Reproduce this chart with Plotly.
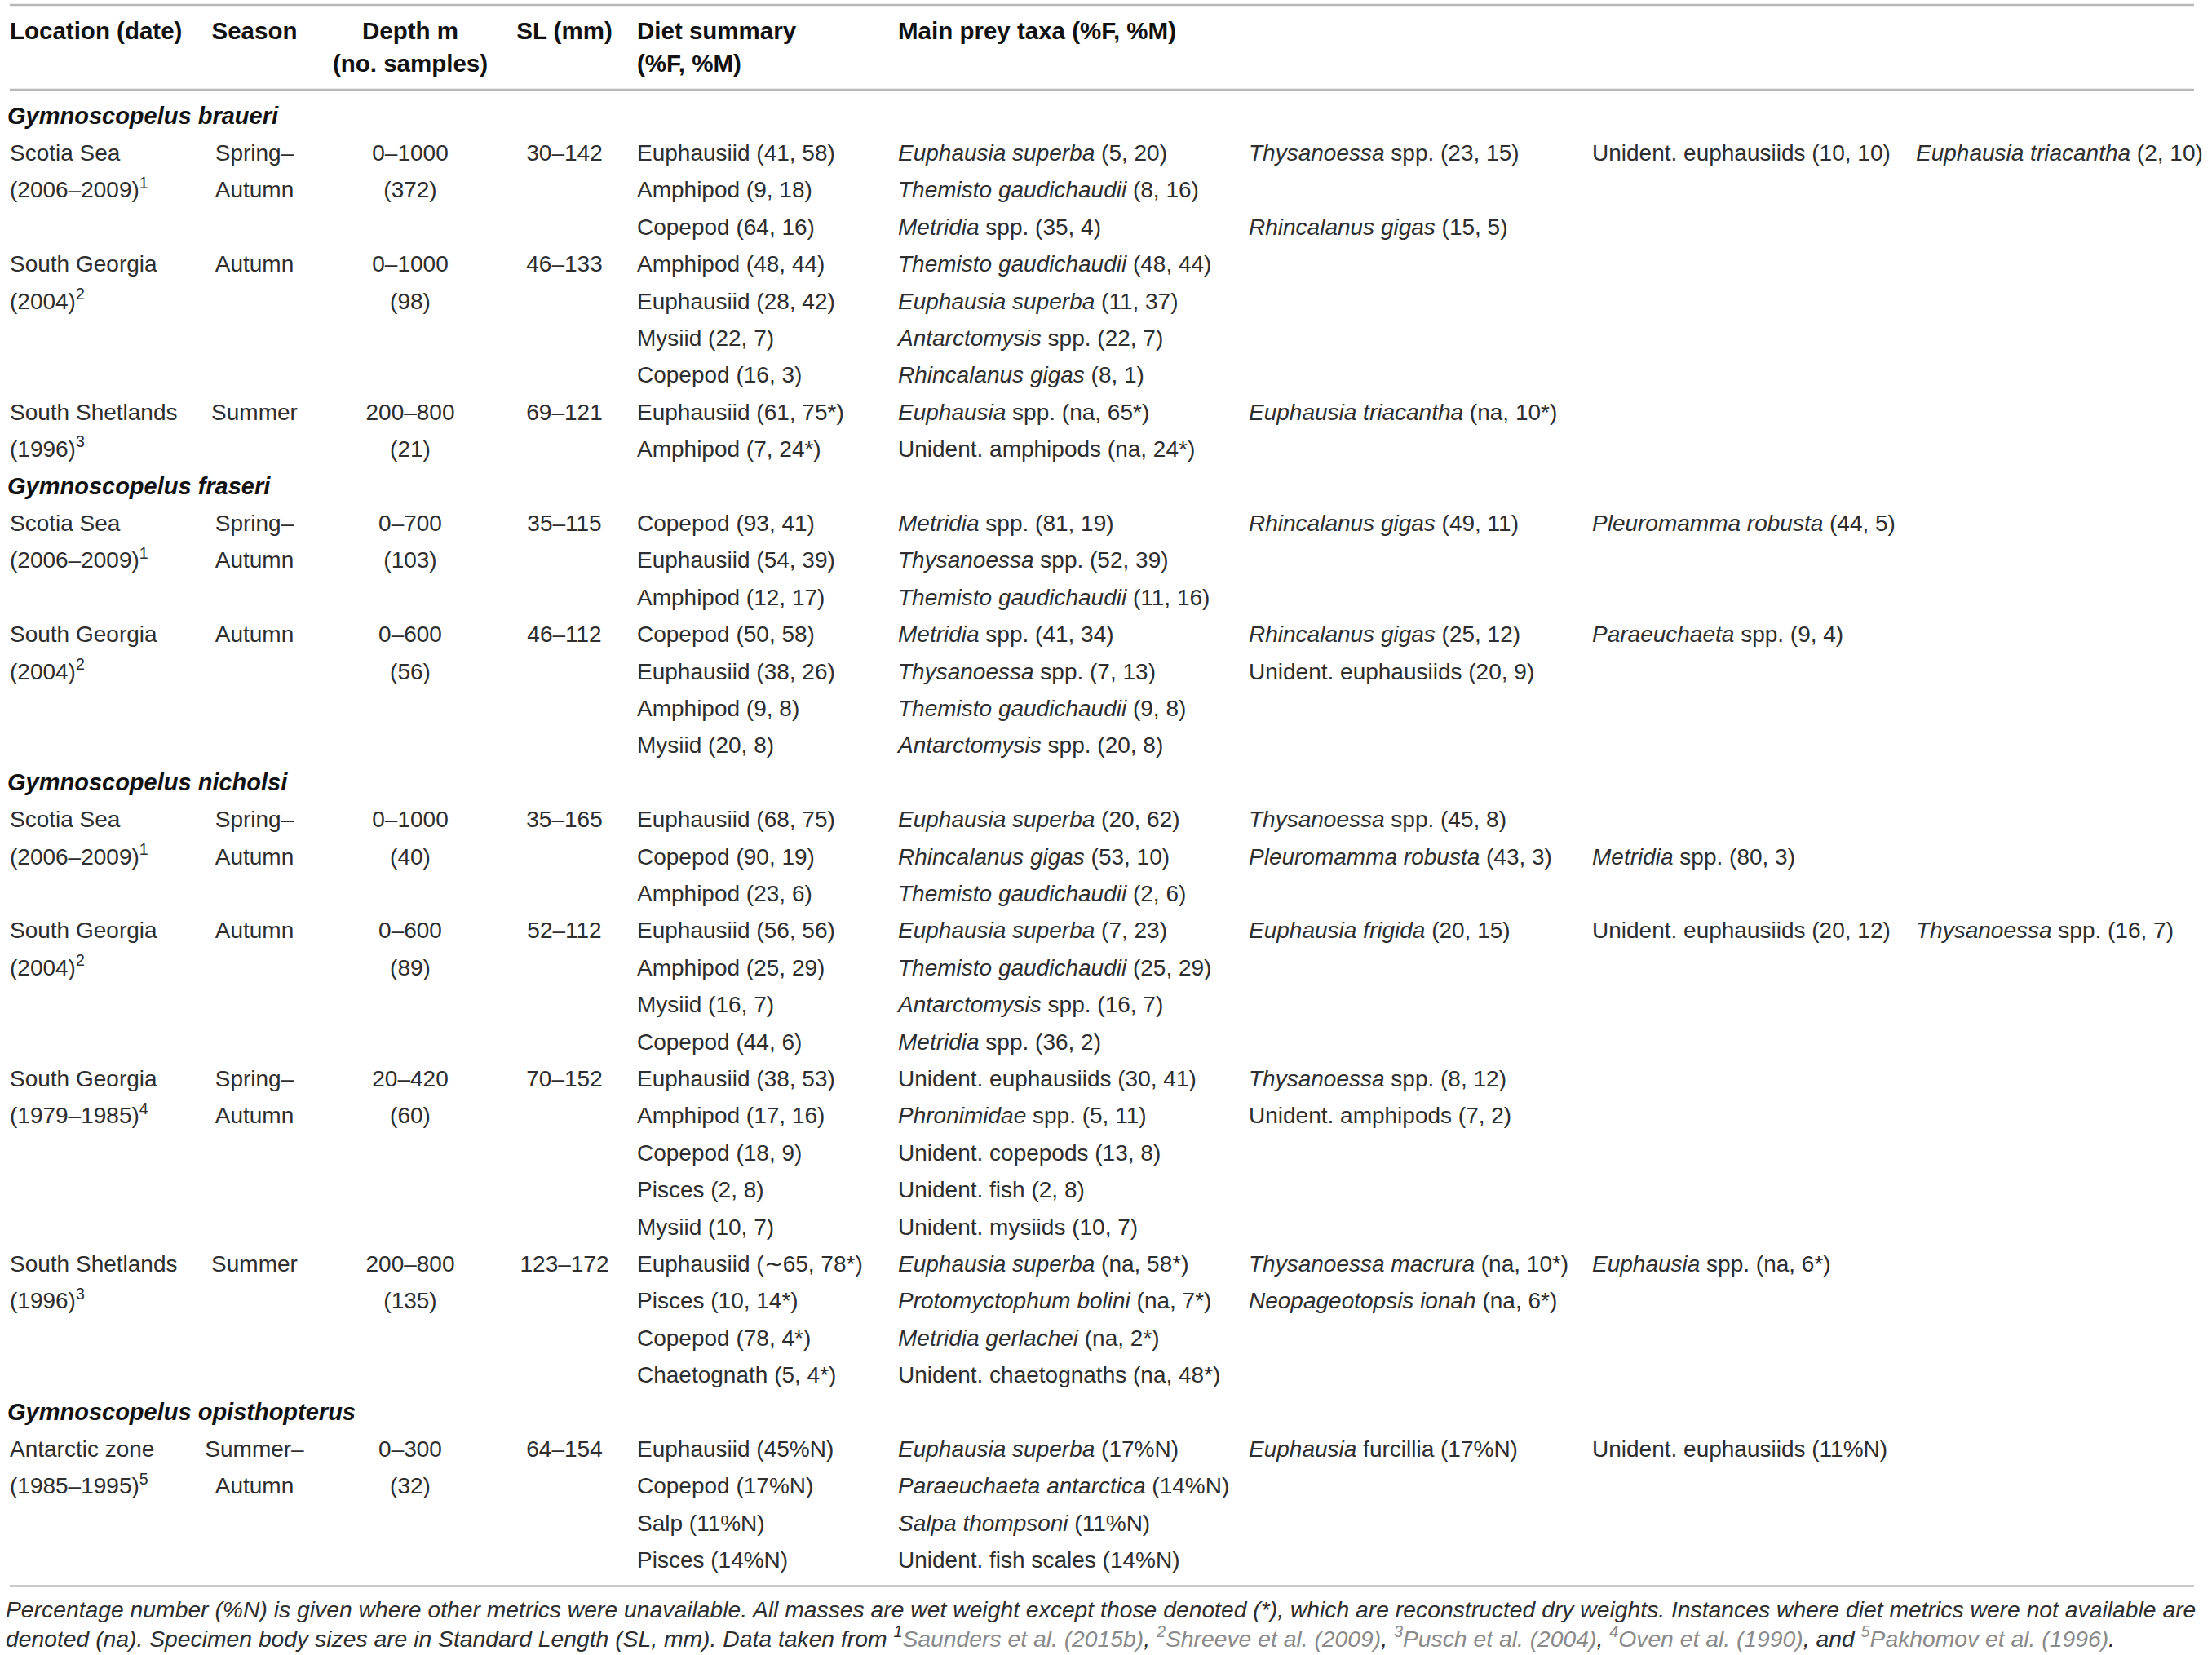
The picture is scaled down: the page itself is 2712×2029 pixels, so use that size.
import plotly.graph_objects as go

#-------------------------------------------------------------------------------
#    Table content, one entry per printed line of the body
#-------------------------------------------------------------------------------
species = [
    'Gymnoscopelus braueri', '', '', '', '', '', '', '', '', '',
    'Gymnoscopelus fraseri', '', '', '', '', '', '', '',
    'Gymnoscopelus nicholsi', '', '', '', '', '', '', '', '', '', '', '', '', '', '', '', '',
    'Gymnoscopelus opisthopterus', '', '', '', '',
]
location = [
    '', 'Scotia Sea', '(2006–2009)<sup>1</sup>', '', 'South Georgia', '(2004)<sup>2</sup>', '', '',
    'South Shetlands', '(1996)<sup>3</sup>',
    '', 'Scotia Sea', '(2006–2009)<sup>1</sup>', '', 'South Georgia', '(2004)<sup>2</sup>', '', '',
    '', 'Scotia Sea', '(2006–2009)<sup>1</sup>', '', 'South Georgia', '(2004)<sup>2</sup>', '', '',
    'South Georgia', '(1979–1985)<sup>4</sup>', '', '', '', 'South Shetlands', '(1996)<sup>3</sup>', '', '',
    '', 'Antarctic zone', '(1985–1995)<sup>5</sup>', '', '',
]
season = [
    '', 'Spring–', 'Autumn', '', 'Autumn', '', '', '', 'Summer', '',
    '', 'Spring–', 'Autumn', '', 'Autumn', '', '', '',
    '', 'Spring–', 'Autumn', '', 'Autumn', '', '', '', 'Spring–', 'Autumn', '', '', '', 'Summer', '', '', '',
    '', 'Summer–', 'Autumn', '', '',
]
depth = [
    '', '0–1000', '(372)', '', '0–1000', '(98)', '', '', '200–800', '(21)',
    '', '0–700', '(103)', '', '0–600', '(56)', '', '',
    '', '0–1000', '(40)', '', '0–600', '(89)', '', '', '20–420', '(60)', '', '', '', '200–800', '(135)', '', '',
    '', '0–300', '(32)', '', '',
]
sl_mm = [
    '', '30–142', '', '', '46–133', '', '', '', '69–121', '',
    '', '35–115', '', '', '46–112', '', '', '',
    '', '35–165', '', '', '52–112', '', '', '', '70–152', '', '', '', '', '123–172', '', '', '',
    '', '64–154', '', '', '',
]
diet = [
    '', 'Euphausiid (41, 58)', 'Amphipod (9, 18)', 'Copepod (64, 16)',
    'Amphipod (48, 44)', 'Euphausiid (28, 42)', 'Mysiid (22, 7)', 'Copepod (16, 3)',
    'Euphausiid (61, 75*)', 'Amphipod (7, 24*)',
    '', 'Copepod (93, 41)', 'Euphausiid (54, 39)', 'Amphipod (12, 17)',
    'Copepod (50, 58)', 'Euphausiid (38, 26)', 'Amphipod (9, 8)', 'Mysiid (20, 8)',
    '', 'Euphausiid (68, 75)', 'Copepod (90, 19)', 'Amphipod (23, 6)',
    'Euphausiid (56, 56)', 'Amphipod (25, 29)', 'Mysiid (16, 7)', 'Copepod (44, 6)',
    'Euphausiid (38, 53)', 'Amphipod (17, 16)', 'Copepod (18, 9)', 'Pisces (2, 8)', 'Mysiid (10, 7)',
    'Euphausiid (∼65, 78*)', 'Pisces (10, 14*)', 'Copepod (78, 4*)', 'Chaetognath (5, 4*)',
    '', 'Euphausiid (45%N)', 'Copepod (17%N)', 'Salp (11%N)', 'Pisces (14%N)',
]
prey_1 = [
    '', '<i>Euphausia superba</i> (5, 20)', '<i>Themisto gaudichaudii</i> (8, 16)', '<i>Metridia</i> spp. (35, 4)',
    '<i>Themisto gaudichaudii</i> (48, 44)', '<i>Euphausia superba</i> (11, 37)',
    '<i>Antarctomysis</i> spp. (22, 7)', '<i>Rhincalanus gigas</i> (8, 1)',
    '<i>Euphausia</i> spp. (na, 65*)', 'Unident. amphipods (na, 24*)',
    '', '<i>Metridia</i> spp. (81, 19)', '<i>Thysanoessa</i> spp. (52, 39)', '<i>Themisto gaudichaudii</i> (11, 16)',
    '<i>Metridia</i> spp. (41, 34)', '<i>Thysanoessa</i> spp. (7, 13)', '<i>Themisto gaudichaudii</i> (9, 8)',
    '<i>Antarctomysis</i> spp. (20, 8)',
    '', '<i>Euphausia superba</i> (20, 62)', '<i>Rhincalanus gigas</i> (53, 10)', '<i>Themisto gaudichaudii</i> (2, 6)',
    '<i>Euphausia superba</i> (7, 23)', '<i>Themisto gaudichaudii</i> (25, 29)', '<i>Antarctomysis</i> spp. (16, 7)',
    '<i>Metridia</i> spp. (36, 2)',
    'Unident. euphausiids (30, 41)', '<i>Phronimidae</i> spp. (5, 11)', 'Unident. copepods (13, 8)',
    'Unident. fish (2, 8)', 'Unident. mysiids (10, 7)',
    '<i>Euphausia superba</i> (na, 58*)', '<i>Protomyctophum bolini</i> (na, 7*)',
    '<i>Metridia gerlachei</i> (na, 2*)', 'Unident. chaetognaths (na, 48*)',
    '', '<i>Euphausia superba</i> (17%N)', '<i>Paraeuchaeta antarctica</i> (14%N)',
    '<i>Salpa thompsoni</i> (11%N)', 'Unident. fish scales (14%N)',
]
prey_2 = [
    '', '<i>Thysanoessa</i> spp. (23, 15)', '', '<i>Rhincalanus gigas</i> (15, 5)', '', '', '', '',
    '<i>Euphausia triacantha</i> (na, 10*)', '',
    '', '<i>Rhincalanus gigas</i> (49, 11)', '', '', '<i>Rhincalanus gigas</i> (25, 12)',
    'Unident. euphausiids (20, 9)', '', '',
    '', '<i>Thysanoessa</i> spp. (45, 8)', '<i>Pleuromamma robusta</i> (43, 3)', '',
    '<i>Euphausia frigida</i> (20, 15)', '', '', '',
    '<i>Thysanoessa</i> spp. (8, 12)', 'Unident. amphipods (7, 2)', '', '', '',
    '<i>Thysanoessa macrura</i> (na, 10*)', '<i>Neopageotopsis ionah</i> (na, 6*)', '', '',
    '', '<i>Euphausia</i> furcillia (17%N)', '', '', '',
]
prey_3 = [
    '', 'Unident. euphausiids (10, 10)', '', '', '', '', '', '', '', '',
    '', '<i>Pleuromamma robusta</i> (44, 5)', '', '', '<i>Paraeuchaeta</i> spp. (9, 4)', '', '', '',
    '', '', '<i>Metridia</i> spp. (80, 3)', '', 'Unident. euphausiids (20, 12)', '', '', '',
    '', '', '', '', '', '<i>Euphausia</i> spp. (na, 6*)', '', '', '',
    '', 'Unident. euphausiids (11%N)', '', '', '',
]
prey_4 = [
    '', '<i>Euphausia triacantha</i> (2, 10)', '', '', '', '', '', '', '', '',
    '', '', '', '', '', '', '', '',
    '', '', '', '', '<i>Thysanoessa</i> spp. (16, 7)', '', '', '',
    '', '', '', '', '', '', '', '', '',
    '', '', '', '', '',
]

header_1 = ['Location (date)', 'Season', 'Depth m', 'SL (mm)', 'Diet summary', 'Main prey taxa (%F, %M)']
header_2 = ['', '', '(no. samples)', '', '(%F, %M)', '']

REF = "<span style='color:#8a8a8a'>"
footnote_1 = ('Percentage number (%N) is given where other metrics were unavailable. All masses are wet '
              'weight except those denoted (*), which are reconstructed dry weights. Instances where diet '
              'metrics were not available are')
footnote_2 = ('denoted (na). Specimen body sizes are in Standard Length (SL, mm). Data taken from '
              '<sup>1</sup>' + REF + 'Saunders et al. (2015b)</span>, '
              + REF + '<sup>2</sup>Shreeve et al. (2009)</span>, '
              + REF + '<sup>3</sup>Pusch et al. (2004)</span>, '
              + REF + '<sup>4</sup>Oven et al. (1990)</span>, and '
              + REF + '<sup>5</sup>Pakhomov et al. (1996)</span>.')

#-------------------------------------------------------------------------------
#    Page geometry (pixels)
#-------------------------------------------------------------------------------
W, H = 2712, 2029
FONT = 'Liberation Sans, Arial, sans-serif'
INK = '#2e2e2e'
BODY_Y0, LINE_H = 144.5, 45.4
HEAD_Y = [40.5, 80.5]
RULE_X = [12, 2690]

# (column values, x anchor, alignment)
columns = [
    (location, 12, 'middle right'),
    (season, 312, 'middle center'),
    (depth, 503, 'middle center'),
    (sl_mm, 692, 'middle center'),
    (diet, 781, 'middle right'),
    (prey_1, 1101, 'middle right'),
    (prey_2, 1531, 'middle right'),
    (prey_3, 1952, 'middle right'),
    (prey_4, 2349, 'middle right'),
]
header_x = [(12, 'middle right'), (312, 'middle center'), (503, 'middle center'),
            (692, 'middle center'), (781, 'middle right'), (1101, 'middle right')]

line_y = [BODY_Y0 + k * LINE_H for k in range(len(diet))]

fig = go.Figure()


def add_text(xs, ys, texts, pos, size=28, weight='normal', style='normal', color=INK):
    fig.add_trace(go.Scatter(
        x=xs, y=ys, text=texts, mode='text', textposition=pos,
        textfont=dict(family=FONT, size=size, color=color, weight=weight, style=style),
        hoverinfo='skip', showlegend=False, cliponaxis=False,
    ))


# header
for (hx, pos), t1, t2 in zip(header_x, header_1, header_2):
    texts = [t for t in (t1, t2) if t]
    ys = [y for y, t in zip(HEAD_Y, (t1, t2)) if t]
    add_text([hx] * len(texts), ys, texts, pos, size=29.5, weight='bold', color='#111111')

# species rows
sp = [(y, t) for y, t in zip(line_y, species) if t]
add_text([9] * len(sp), [y for y, _ in sp], [t for _, t in sp], 'middle right',
         size=29, weight='bold', style='italic', color='#111111')

# body columns
for values, cx, pos in columns:
    cells = [(y, t) for y, t in zip(line_y, values) if t]
    add_text([cx] * len(cells), [y for y, _ in cells], [t for _, t in cells], pos)

# rules: top, under header, under body
rule_y = [6, 110, line_y[-1] + 0.65 * LINE_H]
for ry in rule_y:
    fig.add_shape(type='line', x0=RULE_X[0], x1=RULE_X[1], y0=ry, y1=ry,
                  xref='x', yref='y', line=dict(color='#b8b8b8', width=2.5))

# footnote
foot_y = rule_y[-1] + 28
for i, txt in enumerate([footnote_1, footnote_2]):
    fig.add_annotation(
        x=5, y=foot_y + i * 34, xref='x', yref='y',
        text=txt, showarrow=False, xanchor='left', yanchor='middle', align='left',
        font=dict(family=FONT, size=28.3, color=INK, style='italic'),
    )

fig.update_xaxes(range=[0, W], visible=False, fixedrange=True)
fig.update_yaxes(range=[H, 0], visible=False, fixedrange=True)
fig.update_layout(
    width=W, height=H,
    margin=dict(l=0, r=0, t=0, b=0),
    paper_bgcolor='white', plot_bgcolor='white',
)
# drop the default 8px body margin so the figure sits at the page corner
fig.write_html('out.html', config={'displayModeBar': False},
               post_script="document.body.style.margin='0px';")
